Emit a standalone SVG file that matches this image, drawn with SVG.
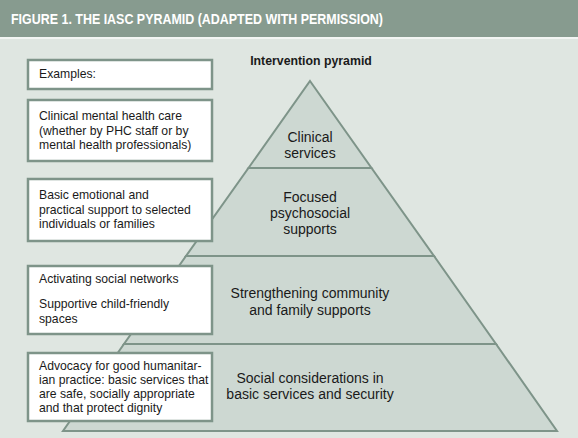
<svg xmlns="http://www.w3.org/2000/svg" width="578" height="438" viewBox="0 0 578 438">
<style>
.layer{fill:#CDD8D2;stroke:#7E9489;stroke-width:2;stroke-linejoin:miter}
.box{fill:#FFFFFF;stroke:#7E9489;stroke-width:2.5}
.bt{font-family:"Liberation Sans",Arial,sans-serif;font-size:12.2px;fill:#1A1A1A}
.pt{font-family:"Liberation Sans",Arial,sans-serif;font-size:14px;fill:#1A1A1A;text-anchor:middle}
</style>
<rect x="0" y="0" width="578" height="438" fill="#DFE6E1"/>
<rect x="0" y="0" width="578" height="37" fill="#879B8F"/>
<rect x="0" y="37" width="578" height="2" fill="#F2F5F3"/>
<text x="11" y="24" font-family="'Liberation Sans',Arial,sans-serif" font-weight="bold" font-size="14" fill="#FFFFFF" textLength="372" lengthAdjust="spacingAndGlyphs">FIGURE 1. THE IASC PYRAMID (ADAPTED WITH PERMISSION)</text>
<text x="311" y="65" font-family="'Liberation Sans',Arial,sans-serif" font-weight="bold" font-size="12.3" fill="#1A1A1A" text-anchor="middle">Intervention pyramid</text>
<g id="layer-social">
<polygon class="layer" points="124,344 496,344 557,431 63,431"/>
<text class="pt" x="310" y="383">Social considerations in</text>
<text class="pt" x="310" y="399">basic services and security</text>
</g>
<g id="layer-community">
<polygon class="layer" points="186,256 434,256 496,344 124,344"/>
<text class="pt" x="310" y="298">Strengthening community</text>
<text class="pt" x="310" y="315">and family supports</text>
</g>
<g id="layer-focused">
<polygon class="layer" points="248.5,168 371.5,168 434,256 186,256"/>
<text class="pt" x="310" y="202">Focused</text>
<text class="pt" x="310" y="218">psychosocial</text>
<text class="pt" x="310" y="234">supports</text>
</g>
<g id="layer-clinical">
<polygon class="layer" points="310,81 371.5,168 248.5,168"/>
<text class="pt" x="310" y="142">Clinical</text>
<text class="pt" x="310" y="158">services</text>
</g>
<g id="box-examples">
<rect class="box" x="28" y="60" width="184" height="29"/>
<text class="bt" x="39" y="78">Examples:</text>
</g>
<g id="box-clinical">
<rect class="box" x="28" y="100" width="184" height="61"/>
<text class="bt" x="39" y="120">Clinical mental health care</text>
<text class="bt" x="39" y="134.5">(whether by PHC staff or by</text>
<text class="bt" x="39" y="149">mental health professionals)</text>
</g>
<g id="box-focused">
<rect class="box" x="28" y="179" width="184" height="62"/>
<text class="bt" x="39" y="199">Basic emotional and</text>
<text class="bt" x="39" y="214">practical support to selected</text>
<text class="bt" x="39" y="228">individuals or families</text>
</g>
<g id="box-community">
<rect class="box" x="28" y="266" width="184" height="68"/>
<text class="bt" x="39" y="283">Activating social networks</text>
<text class="bt" x="39" y="308">Supportive child-friendly</text>
<text class="bt" x="39" y="323">spaces</text>
</g>
<g id="box-social">
<rect class="box" x="28" y="353" width="184" height="68"/>
<text class="bt" x="39" y="370">Advocacy for good humanitar-</text>
<text class="bt" x="39" y="384">ian practice: basic services that</text>
<text class="bt" x="39" y="398">are safe, socially appropriate</text>
<text class="bt" x="39" y="412">and that protect dignity</text>
</g>
<g id="connectors"></g>
</svg>
